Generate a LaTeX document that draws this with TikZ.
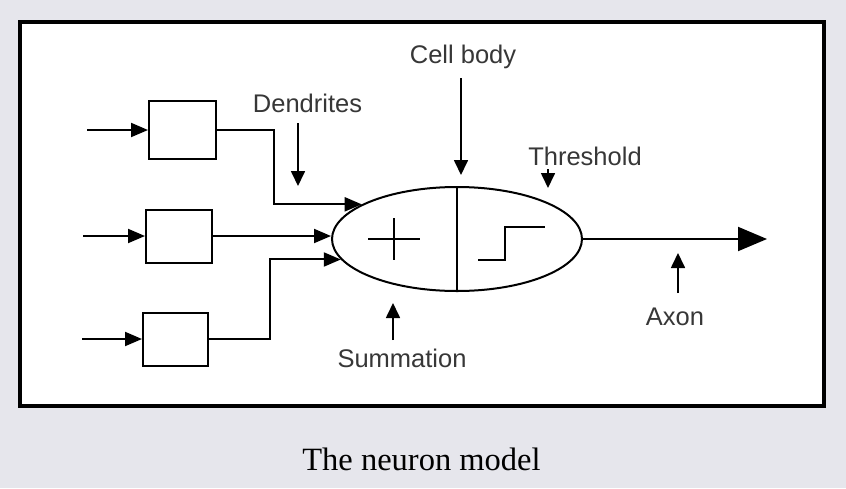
\documentclass[tikz,border=0pt]{standalone}
\usepackage{fontspec}
\setmainfont{Liberation Serif}
\newfontfamily\labelfont{Liberation Sans}
\usetikzlibrary{arrows.meta,shapes.geometric}
\definecolor{paper}{RGB}{230,230,236}
\definecolor{ink}{RGB}{55,55,55}
\tikzset{
  cell/.style={draw, line width=2pt, inner sep=0pt},
  wire/.style={line width=2pt, -{Triangle[length=17pt,width=14pt]}},
  pin/.style={line width=1.7pt, -{Triangle[length=15pt,width=14pt]}},
  tag/.style={font=\labelfont\fontsize{25.5}{28}\selectfont, text=ink, inner sep=0pt, anchor=base},
}
\begin{document}
\begin{tikzpicture}[x=1pt,y=-1pt]
  \fill[paper](0,0) rectangle (846,488);
  \draw[line width=4pt, fill=white](20.3,22) rectangle (823.7,405.7);
  % dendrite boxes
  \node[cell, minimum width=67pt, minimum height=58pt] (d1) at (182.5,130) {};
  \node[cell, minimum width=66pt, minimum height=53pt] (d2) at (179,236) {};
  \node[cell, minimum width=65pt, minimum height=53pt] (d3) at (175.5,339) {};
  \coordinate (in1) at (87,130);
  \coordinate (in2) at (83,236);
  \coordinate (in3) at (82,339);
  \draw[wire](in1) -- (d1.west);
  \draw[wire](in2) -- (d2.west);
  \draw[wire](in3) -- (d3.west);
  % cell body
  \node[draw, ellipse, line width=2pt, minimum width=250pt, minimum height=104pt,
        inner sep=0pt] (soma) at (457,239) {};
  \draw[line width=2pt](soma.north) -- (soma.south);
  \draw[line width=1.5pt](368,239) -- (420,239) (394,218) -- (394,260);
  \draw[line width=1.5pt](478,260) -- (505,260) -- (505,227) -- (545,227);
  \coordinate (k1) at (274,0);
  \coordinate (k3) at (270,0);
  \draw[wire](d1.east) -| (k1 |- soma.160) -- (soma.160);
  \draw[wire](d2.east) -- (d2.east -| soma.west);
  \draw[wire](d3.east) -| (k3 |- soma.190) -- (soma.190);
  % axon
  \coordinate (axtip) at (767,239);
  \draw[line width=2pt, -{Triangle[length=29pt,width=24pt]}](soma.east) -- (axtip);
  % labels
  \node[tag] (dendlbl) at (307.5,112) {Dendrites};
  \node[tag] (celllbl) at (463,63) {Cell body};
  \node[tag] (thrlbl) at (585,165) {Threshold};
  \node[tag] (sumlbl) at (402,367) {Summation};
  \node[tag] (axlbl) at (675,325) {Axon};
  \coordinate (p1a) at (298,123);  \coordinate (p1b) at (298,186);
  \coordinate (p2a) at (461,78);   \coordinate (p2b) at (461,175);
  \coordinate (p3a) at (548,169);  \coordinate (p3b) at (548,188);
  \coordinate (p4a) at (393,340);  \coordinate (p4b) at (393,303);
  \coordinate (p5a) at (678,293);  \coordinate (p5b) at (678,253);
  \draw[pin](p1a) -- (p1b);
  \draw[pin](p2a) -- (p2b);
  \draw[pin](p3a) -- (p3b);
  \draw[pin](p4a) -- (p4b);
  \draw[pin](p5a) -- (p5b);
  % caption
  \node[font=\fontsize{32.5}{36}\selectfont, anchor=base] (caption) at (421.5,470) {The neuron model};
\end{tikzpicture}
\end{document}
